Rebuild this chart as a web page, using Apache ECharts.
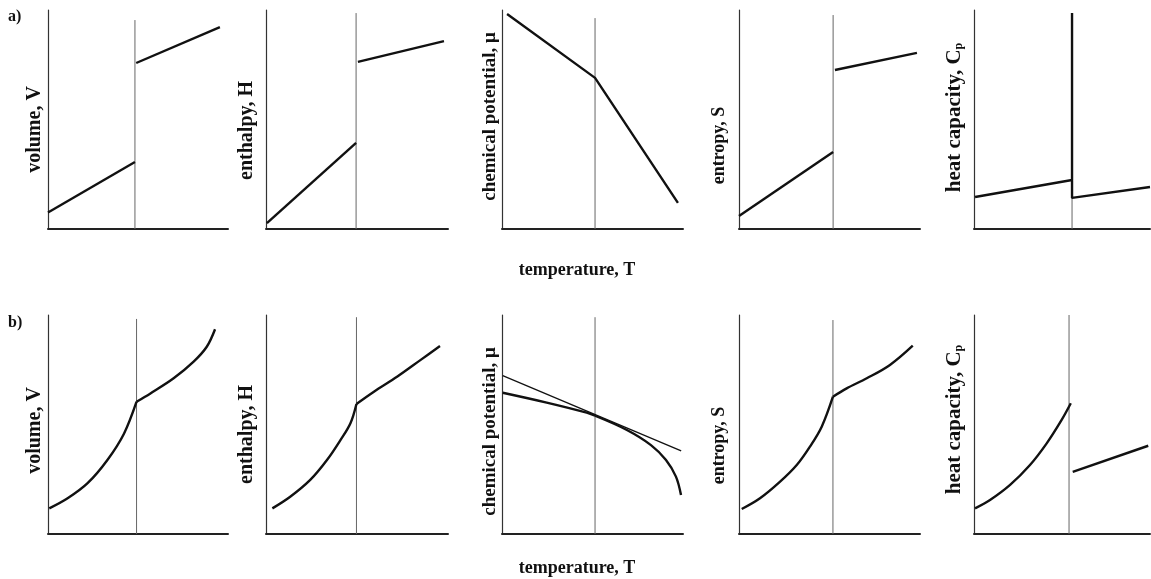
<!DOCTYPE html>
<html><head><meta charset="utf-8">
<script src="https://cdn.jsdelivr.net/npm/echarts@6/dist/echarts.min.js"></script>
<style>html,body{margin:0;padding:0;background:#fff}#c{width:1151px;height:579px}</style>
</head><body><div id="c"></div>
<script>
// ---------- text ----------
const yAxisNames = ['volume, V', 'enthalpy, H', 'chemical potential, μ', 'entropy, S', 'heat capacity, C{sub|p}'];
const rowLabels = ['a)', 'b)'];
const xAxisName = 'temperature, T';

// ---------- transition temperature (x, 0..100) and height of the vertical marker ----------
const transA = [48.3, 49.5, 51.4, 52.0, 55.7];
const transB = [49.2, 49.7, 51.4, 51.9, 54.0];
const vTopA = [95.4, 98.6, 96.3, 97.7, 98.0];
const vTopB = [98.2, 99.0, 99.0, 97.7, 100.0];

// ---------- row a) first-order transition ----------
const aVLow = [[0, 7.5], [48.3, 30.6]];
const aVHigh = [[49.0, 75.8], [95.5, 92.2]];
const aHLow = [[0.5, 2.7], [49.5, 39.3]];
const aHHigh = [[50.5, 76.3], [97.8, 85.8]];
const aMu = [[2.8, 98.2], [51.4, 69.0], [97.2, 11.9]];
const aSLow = [[0, 5.9], [52.0, 35.2]];
const aSHigh = [[53.0, 72.6], [98.3, 80.4]];
const aCp = [[0.6, 14.6], [55.7, 22.4], [55.7, 98.6], [55.7, 14.2], [100, 19.2]];

// ---------- row b) second-order transition ----------
const bVLow = [[0.7, 11.7], [10.9, 16.3], [22.0, 23.2], [33.0, 33.8], [42.2, 45.8], [49.2, 60.4]];
const bVHigh = [[49.2, 60.4], [56.9, 64.2], [69.8, 71.1], [80.9, 78.7], [88.2, 85.5], [92.8, 93.5]];
const bHLow = [[3.5, 11.7], [13.3, 17.0], [24.3, 24.7], [33.5, 33.8], [40.9, 42.9], [46.4, 50.6], [49.7, 59.4]];
const bHHigh = [[49.7, 59.4], [59.3, 65.0], [72.2, 71.9], [85.0, 79.5], [95.6, 85.8]];
const bMuLeft = [[0.4, 64.5], [24.7, 60.0], [46.8, 55.4], [51.4, 54.0]];
const bMuRight = [[51.4, 54.0], [69.0, 47.5], [82.3, 40.6], [90.6, 33.8], [96.1, 26.2], [98.9, 17.8]];
const bMuTangent = [[0.4, 72.3], [99.0, 38.0]];
const bSLow = [[1.5, 11.4], [11.6, 16.3], [22.7, 23.9], [31.9, 31.5], [39.2, 39.9], [45.7, 49.0], [51.9, 62.7]];
const bSHigh = [[51.9, 62.7], [59.5, 66.5], [70.6, 71.1], [83.4, 77.2], [96.0, 86.0]];
const bCpLow = [[0.6, 11.7], [9.1, 15.5], [20.5, 22.4], [31.8, 31.5], [41.3, 41.4], [49.8, 52.1], [55.0, 59.7]];
const bCpHigh = [[56.1, 28.4], [99.0, 40.3]];

// ---------- layout ----------
const colLeft = [48, 266, 502, 739, 974];
const colWidth = [180, 182, 181, 181, 176];
const rowTop = [10, 315];
const plotHeight = 219;
const nameFontSize = [20, 20, 19, 18, 21];
const nameGaps = [3, 9, 2, 11, 9];
const nameShift = [[10, 11, -3, 26, -2], [6, 10, 7, 21, -5]];
const serif = "'Liberation Serif', 'DejaVu Serif', serif";

const panelCurves = [
  [aVLow, aVHigh], [aHLow, aHHigh], [aMu], [aSLow, aSHigh], [aCp],
  [bVLow, bVHigh], [bHLow, bHHigh], [bMuLeft, bMuRight], [bSLow, bSHigh], [bCpLow, bCpHigh]
];

const grids = [], xAxes = [], yAxes = [], series = [];
for (let r = 0; r < 2; r++) {
  for (let c = 0; c < 5; c++) {
    const p = r * 5 + c;
    const d = nameShift[r][c];
    grids.push({ left: colLeft[c], top: rowTop[r], width: colWidth[c], height: plotHeight });
    xAxes.push({
      gridIndex: p, type: 'value', min: 0, max: 100,
      axisLine: { show: true, onZero: false, lineStyle: { color: '#222', width: 2 } },
      axisTick: { show: false }, axisLabel: { show: false }, splitLine: { show: false }
    });
    yAxes.push({
      gridIndex: p, type: 'value', min: 0, max: 100,
      name: yAxisNames[c], nameLocation: 'middle', nameRotate: 90, nameGap: nameGaps[c],
      nameTextStyle: {
        fontFamily: serif, fontWeight: 'bold', fontSize: nameFontSize[c], color: '#111',
        padding: d > 0 ? [0, 2 * d, 0, 0] : [0, 0, 0, -2 * d],
        rich: { sub: { fontFamily: serif, fontWeight: 'bold', fontSize: 12, color: '#111', verticalAlign: 'bottom', padding: [7, 0, 0, 0] } }
      },
      axisLine: { show: true, onZero: false, lineStyle: { color: '#333', width: 1.2 } },
      axisTick: { show: false }, axisLabel: { show: false }, splitLine: { show: false }
    });
    const t = r === 0 ? transA[c] : transB[c];
    const vt = r === 0 ? vTopA[c] : vTopB[c];
    series.push({
      type: 'line', xAxisIndex: p, yAxisIndex: p, data: [[t, 0], [t, vt]],
      showSymbol: false, silent: true, z: 1,
      lineStyle: { color: '#666', width: 1 }
    });
    panelCurves[p].forEach(dd => {
      series.push({
        type: 'line', xAxisIndex: p, yAxisIndex: p, data: dd,
        showSymbol: false, silent: true, z: 3, smooth: r === 1 ? 0.35 : false,
        lineStyle: { color: '#111', width: 2.4 }
      });
    });
    if (p === 7) {
      series.push({
        type: 'line', xAxisIndex: p, yAxisIndex: p, data: bMuTangent,
        showSymbol: false, silent: true, z: 2,
        lineStyle: { color: '#111', width: 1.3 }
      });
    }
  }
}

const font16 = "bold 16px " + serif;
const font18 = "bold 18px " + serif;
const graphics = [
  { type: 'text', x: 8, y: 17, style: { text: rowLabels[0], font: font16, fill: '#111', textVerticalAlign: 'middle' } },
  { type: 'text', x: 8, y: 323, style: { text: rowLabels[1], font: font16, fill: '#111', textVerticalAlign: 'middle' } },
  { type: 'text', x: 577, y: 270, style: { text: xAxisName, font: font18, fill: '#111', textAlign: 'center', textVerticalAlign: 'middle' } },
  { type: 'text', x: 577, y: 568, style: { text: xAxisName, font: font18, fill: '#111', textAlign: 'center', textVerticalAlign: 'middle' } }
];

const chart = echarts.init(document.getElementById('c'));
chart.setOption({
  backgroundColor: '#fff',
  animation: false,
  graphic: graphics,
  grid: grids, xAxis: xAxes, yAxis: yAxes, series: series
});
</script></body></html>
